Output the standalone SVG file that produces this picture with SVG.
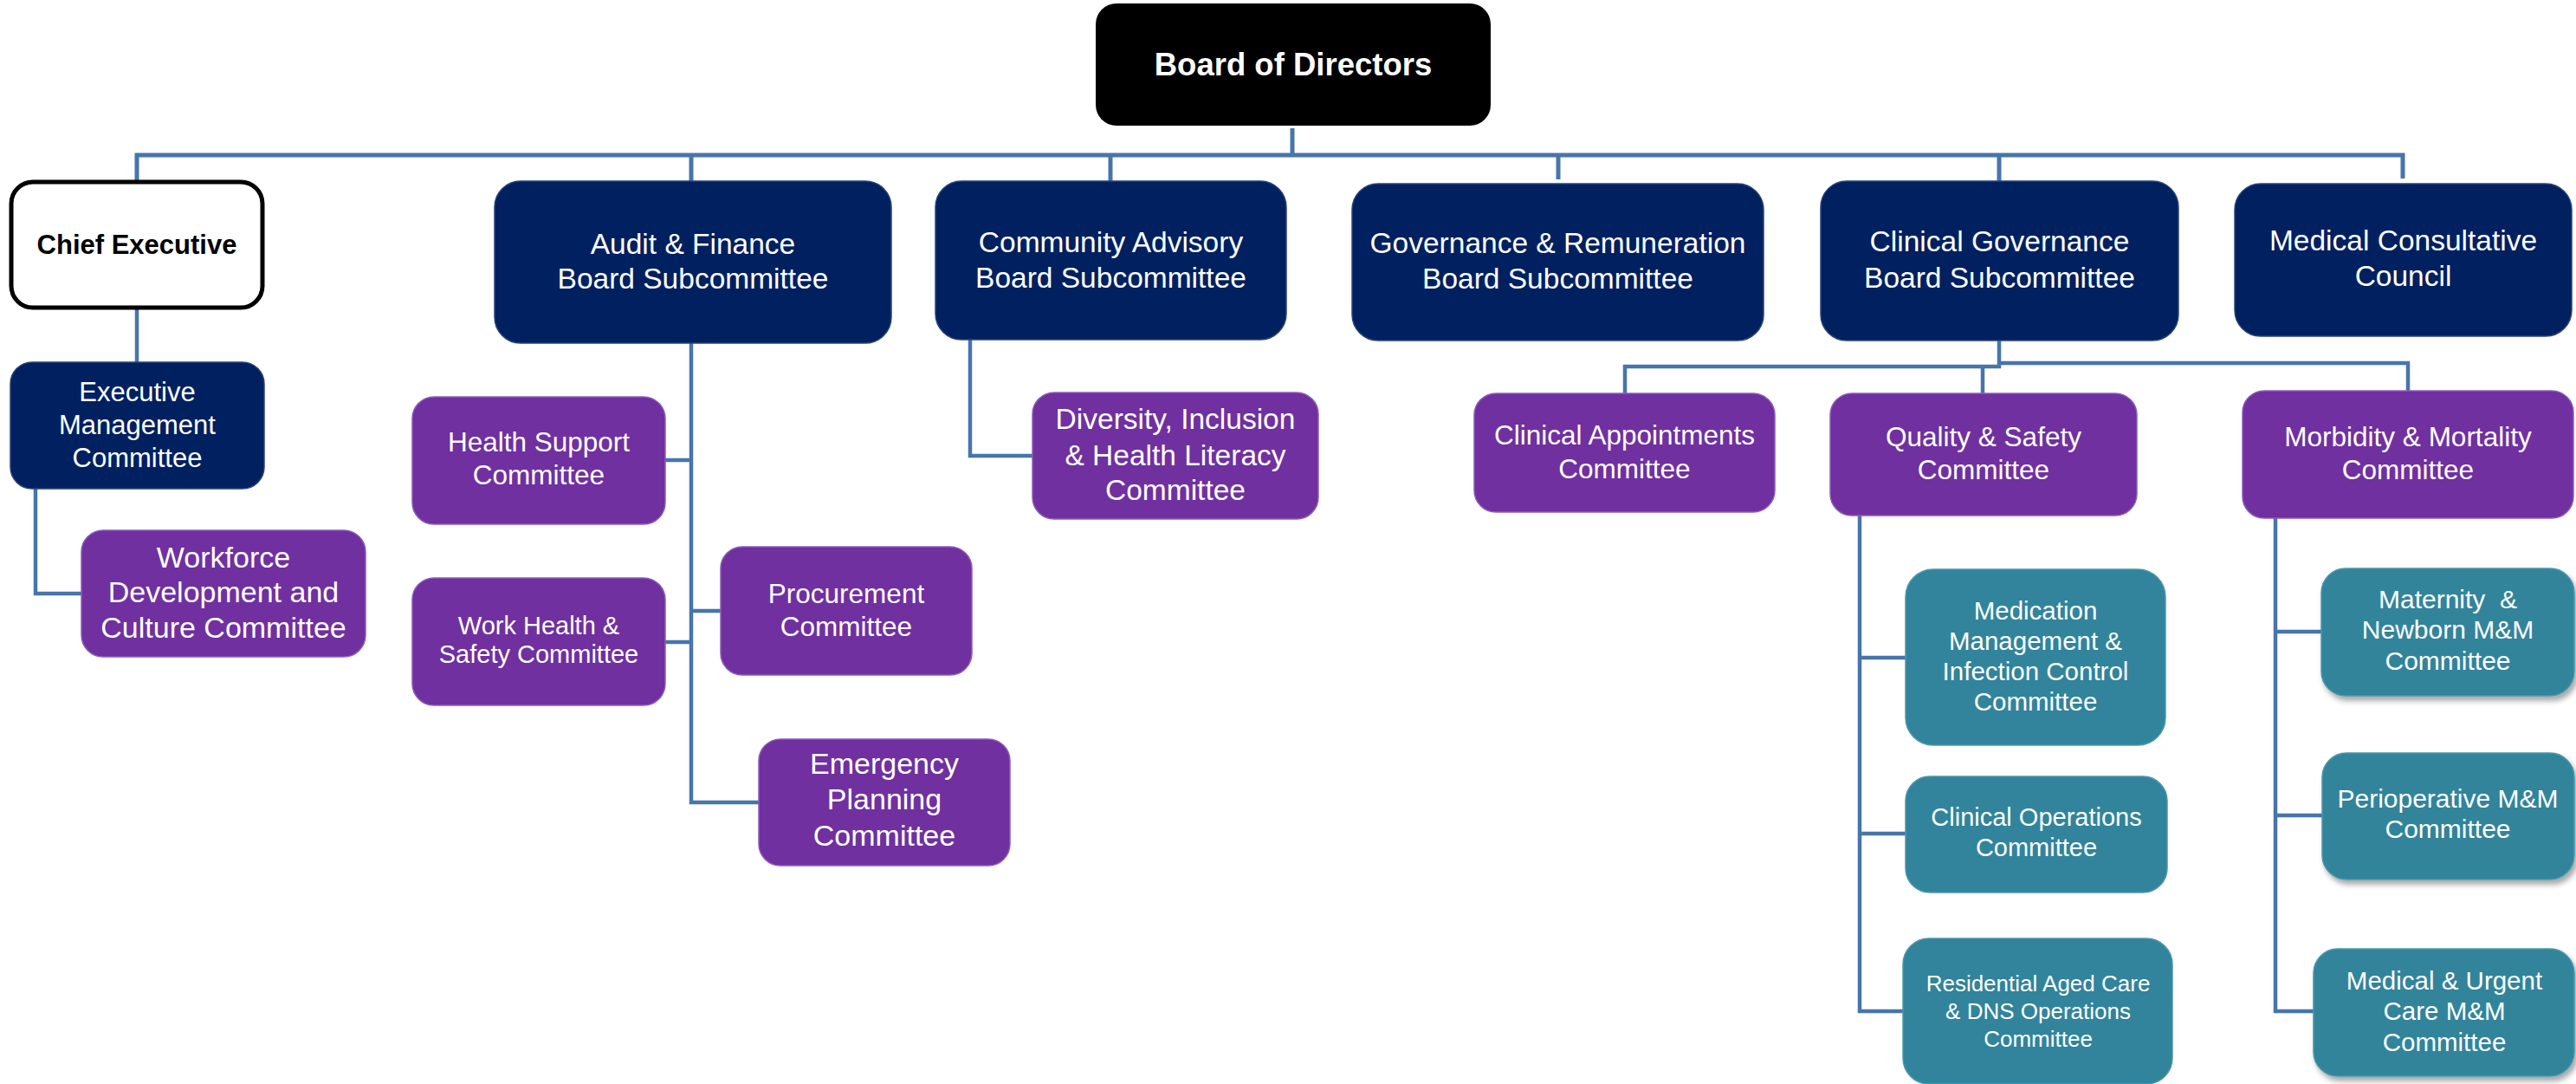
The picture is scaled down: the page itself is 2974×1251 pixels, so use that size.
<svg xmlns="http://www.w3.org/2000/svg" width="2974" height="1251" viewBox="0 0 2974 1251">
<defs>
<filter id="sh" x="-10%" y="-10%" width="125%" height="130%">
<feDropShadow dx="3" dy="5" stdDeviation="3" flood-color="#000" flood-opacity="0.35"/>
</filter>
</defs>
<style>
text{font-family:"Liberation Sans",Arial,sans-serif;fill:#fff;text-anchor:middle;white-space:pre}
.navy{fill:#002060;stroke:#2a4478;stroke-width:1.5}
.purple{fill:#7030A0;stroke:#8c5cb8;stroke-width:1.5}
.teal{fill:#31849B;stroke:#4c97ab;stroke-width:1.5}
.conn path{fill:none;stroke:#4775AB;stroke-width:4.5;stroke-linejoin:miter}
.t1{font-size:33.5px}
.t2{font-size:31.5px}
.t3{font-size:29.5px}
</style>
<rect width="2974" height="1251" fill="#fff"/>
<g class="conn" id="connectors">
<path d="M1492,148 V179" style="stroke-width:5"/>
<path d="M158,208 V179 H2774 V206" style="stroke-width:5"/>
<path d="M798,179 V209" style="stroke-width:5"/>
<path d="M1282,179 V209" style="stroke-width:5"/>
<path d="M1799,179 V207" style="stroke-width:5"/>
<path d="M2308,179 V209" style="stroke-width:5"/>
<path d="M158,357 V418"/>
<path d="M41,564 V685 H94"/>
<path d="M798,396 V926 H876"/>
<path d="M768,531 H798"/>
<path d="M768,741 H798"/>
<path d="M798,705 H832"/>
<path d="M1120,392 V526 H1192"/>
<path d="M2308,393 V423 H1876 V454"/>
<path d="M2289,423 V454"/>
<path d="M2308,419 H2780 V451"/>
<path d="M2147,595 V1167 H2197"/>
<path d="M2147,759 H2200"/>
<path d="M2147,962 H2200"/>
<path d="M2627,598 V1167 H2671"/>
<path d="M2627,729 H2680"/>
<path d="M2627,941 H2681"/>
</g>
<g id="board">
<rect x="1265" y="4" width="456" height="141" rx="24" fill="#000"/>
<text x="1493" y="87" style="font-size:36.5px;font-weight:bold">Board of Directors</text>
</g>
<g id="chief-executive">
<rect x="13" y="210" width="290" height="145" rx="25" fill="#fff" stroke="#000" stroke-width="5"/>
<text x="158" y="293" style="font-size:31px;font-weight:bold;fill:#000">Chief Executive</text>
</g>
<g id="audit">
<rect class="navy" x="571" y="209" width="458" height="187" rx="30"/>
<text class="t1" x="800" y="293">Audit &amp; Finance</text>
<text class="t1" x="800" y="333">Board Subcommittee</text>
</g>
<g id="community">
<rect class="navy" x="1080" y="209" width="405" height="183" rx="30"/>
<text class="t1" x="1282.5" y="291">Community Advisory</text>
<text class="t1" x="1282.5" y="332">Board Subcommittee</text>
</g>
<g id="governance">
<rect class="navy" x="1561" y="212" width="475" height="181" rx="30"/>
<text class="t1" x="1798.5" y="292">Governance &amp; Remuneration</text>
<text class="t1" x="1798.5" y="333">Board Subcommittee</text>
</g>
<g id="clinical-governance">
<rect class="navy" x="2102" y="209" width="413" height="184" rx="30"/>
<text class="t1" x="2308.5" y="290">Clinical Governance</text>
<text class="t1" x="2308.5" y="332">Board Subcommittee</text>
</g>
<g id="medical-consultative">
<rect class="navy" x="2580" y="212" width="389" height="176" rx="30"/>
<text class="t1" x="2774.5" y="289">Medical Consultative</text>
<text class="t1" x="2774.5" y="330">Council</text>
</g>
<g id="exec-mgmt">
<rect class="navy" x="12" y="418" width="293" height="146" rx="25"/>
<text x="158.5" y="463" style="font-size:31px">Executive</text>
<text x="158.5" y="501" style="font-size:31px">Management</text>
<text x="158.5" y="539" style="font-size:31px">Committee</text>
</g>
<g id="workforce">
<rect class="purple" x="94" y="612" width="328" height="146" rx="25"/>
<text x="258" y="655" style="font-size:34px">Workforce</text>
<text x="258" y="695" style="font-size:34px">Development and</text>
<text x="258" y="736" style="font-size:34px">Culture Committee</text>
</g>
<g id="health-support">
<rect class="purple" x="476" y="458" width="292" height="147" rx="25"/>
<text class="t2" x="622" y="521">Health Support</text>
<text class="t2" x="622" y="559">Committee</text>
</g>
<g id="work-health">
<rect class="purple" x="476" y="667" width="292" height="147" rx="25"/>
<text x="622" y="732" style="font-size:29px">Work Health &amp;</text>
<text x="622" y="765" style="font-size:29px">Safety Committee</text>
</g>
<g id="procurement">
<rect class="purple" x="832" y="631" width="290" height="148" rx="25"/>
<text class="t2" x="977" y="696">Procurement</text>
<text class="t2" x="977" y="734">Committee</text>
</g>
<g id="emergency">
<rect class="purple" x="876" y="853" width="290" height="146" rx="25"/>
<text x="1021" y="893" style="font-size:34px">Emergency</text>
<text x="1021" y="934" style="font-size:34px">Planning</text>
<text x="1021" y="976" style="font-size:34px">Committee</text>
</g>
<g id="diversity">
<rect class="purple" x="1192" y="453" width="330" height="146" rx="25"/>
<text class="t1" x="1357" y="495">Diversity, Inclusion</text>
<text class="t1" x="1357" y="537">&amp; Health Literacy</text>
<text class="t1" x="1357" y="577">Committee</text>
</g>
<g id="clinical-appointments">
<rect class="purple" x="1702" y="454" width="347" height="137" rx="25"/>
<text class="t2" x="1875.5" y="513">Clinical Appointments</text>
<text class="t2" x="1875.5" y="552">Committee</text>
</g>
<g id="quality-safety">
<rect class="purple" x="2113" y="454" width="354" height="141" rx="25"/>
<text class="t2" x="2290" y="515">Quality &amp; Safety</text>
<text class="t2" x="2290" y="553">Committee</text>
</g>
<g id="morbidity-mortality">
<rect class="purple" x="2589" y="451" width="382" height="147" rx="25"/>
<text class="t2" x="2780" y="515">Morbidity &amp; Mortality</text>
<text class="t2" x="2780" y="553">Committee</text>
</g>
<g id="medication">
<rect class="teal" x="2200" y="657" width="300" height="203" rx="32"/>
<text class="t3" x="2350" y="715">Medication</text>
<text class="t3" x="2350" y="750">Management &amp;</text>
<text class="t3" x="2350" y="785">Infection Control</text>
<text class="t3" x="2350" y="820">Committee</text>
</g>
<g id="clinical-operations">
<rect class="teal" x="2200" y="896" width="302" height="134" rx="28"/>
<text x="2351" y="953" style="font-size:29px">Clinical Operations</text>
<text x="2351" y="988" style="font-size:29px">Committee</text>
</g>
<g id="residential">
<rect class="teal" x="2197" y="1083" width="311" height="168" rx="30"/>
<text x="2353" y="1144" style="font-size:26px">Residential Aged Care</text>
<text x="2353" y="1176" style="font-size:26px">&amp; DNS Operations</text>
<text x="2353" y="1208" style="font-size:26px">Committee</text>
</g>
<g id="maternity">
<rect class="teal" x="2680" y="656" width="292" height="147" rx="28" filter="url(#sh)"/>
<text x="2826" y="702" style="font-size:30px">Maternity  &amp;</text>
<text x="2826" y="737" style="font-size:30px">Newborn M&amp;M</text>
<text x="2826" y="773" style="font-size:30px">Committee</text>
</g>
<g id="perioperative">
<rect class="teal" x="2681" y="869" width="291" height="146" rx="28" filter="url(#sh)"/>
<text x="2826" y="932" style="font-size:30px">Perioperative M&amp;M</text>
<text x="2826" y="967" style="font-size:30px">Committee</text>
</g>
<g id="medical-urgent">
<rect class="teal" x="2671" y="1095" width="301" height="147" rx="28" filter="url(#sh)"/>
<text class="t3" x="2822" y="1142">Medical &amp; Urgent</text>
<text class="t3" x="2822" y="1177">Care M&amp;M</text>
<text class="t3" x="2822" y="1213">Committee</text>
</g>
</svg>
